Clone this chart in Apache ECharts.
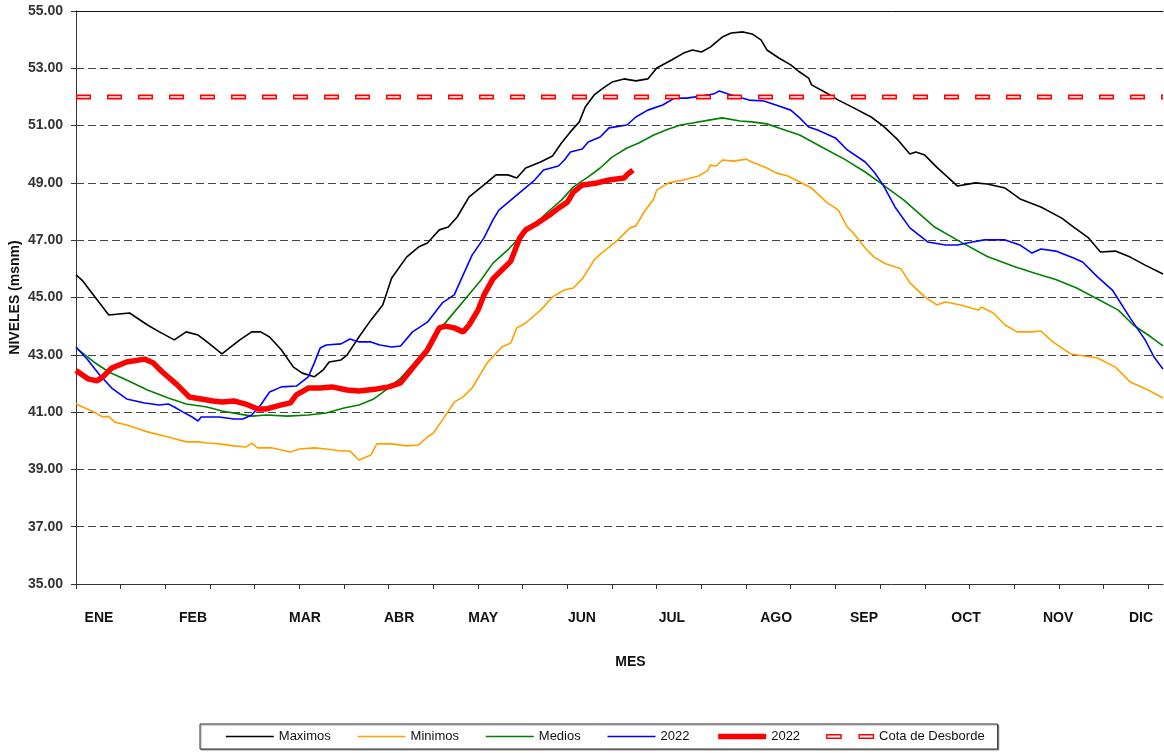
<!DOCTYPE html>
<html><head><meta charset="utf-8">
<script src="https://cdn.jsdelivr.net/npm/echarts@6/dist/echarts.min.js"></script>
<style>html,body{margin:0;padding:0;background:#fff}#c{width:1164px;height:753px}</style>
</head><body><div id="c"></div>
<script>
const FONT = 'Liberation Sans, Arial, sans-serif';
const monthNames = ['ENE','FEB','MAR','ABR','MAY','JUN','JUL','AGO','SEP','OCT','NOV','DIC'];
const monthPos = [7.7, 39.3, 76.9, 108.5, 136.7, 169.9, 200.1, 235.1, 264.6, 298.9, 329.8, 357.6];
const tickDays = [0,15,30,45,60,75,90,105,120,135,150,165,180,195,210,225,240,255,270,285,300,315,330,345,360];

const maxDays = [0,2,11,18,24,28,33,37,41,44,49,55,59,62,65,69,73,76,80,83,85,89,91,95,99,103,106,111,115,118,122,125,128,132,137,141,145,148,151,156,160,163,166,169,171,174,177,180,184,188,192,195,200,204,207,210,213,217,220,224,227,230,232,236,240,243,246,247,252,256,260,267,271,276,280,282,285,289,296,302,306,312,317,324,331,335,340,344,349,354,359,365];
const maxVals = [45.79,45.61,44.39,44.46,44.04,43.80,43.52,43.80,43.69,43.45,43.03,43.52,43.80,43.80,43.62,43.17,42.57,42.36,42.23,42.47,42.75,42.82,42.99,43.62,44.21,44.74,45.68,46.41,46.76,46.90,47.36,47.46,47.81,48.51,48.93,49.28,49.28,49.17,49.52,49.73,49.94,50.39,50.78,51.13,51.65,52.07,52.31,52.52,52.63,52.56,52.63,53.01,53.29,53.53,53.64,53.57,53.74,54.09,54.23,54.27,54.20,53.99,53.64,53.36,53.12,52.87,52.66,52.42,52.14,51.89,51.68,51.30,50.99,50.50,50.01,50.08,49.97,49.55,48.89,49.00,48.96,48.82,48.44,48.16,47.77,47.46,47.08,46.59,46.62,46.41,46.13,45.82];

const minDays = [0,6,9,11,13,17,24,31,37,41,44,48,53,57,59,61,66,72,75,80,84,89,92,95,99,101,106,111,115,118,120,123,127,130,133,138,143,146,148,151,156,160,164,167,170,174,177,182,186,188,191,194,195,199,204,209,212,213,215,217,221,225,227,232,235,239,243,247,252,256,259,261,265,268,272,277,280,285,289,292,297,303,304,308,312,316,321,324,328,334,343,349,354,360,365];
const minVals = [41.28,41.00,40.83,40.85,40.65,40.55,40.31,40.13,39.96,39.96,39.92,39.89,39.82,39.78,39.92,39.75,39.75,39.61,39.71,39.75,39.71,39.64,39.64,39.33,39.50,39.89,39.89,39.82,39.85,40.13,40.27,40.72,41.35,41.53,41.84,42.71,43.27,43.41,43.94,44.11,44.56,45.02,45.26,45.33,45.65,46.31,46.59,47.01,47.43,47.50,48.02,48.44,48.75,49.00,49.10,49.24,49.42,49.62,49.59,49.80,49.76,49.83,49.73,49.52,49.35,49.24,49.03,48.82,48.33,48.05,47.46,47.25,46.73,46.41,46.17,46.00,45.51,45.02,44.74,44.84,44.74,44.56,44.67,44.46,44.04,43.80,43.80,43.83,43.45,43.03,42.89,42.57,42.05,41.77,41.49];

const medDays = [0,6,11,17,24,31,37,44,49,55,59,64,71,78,84,90,95,100,104,109,113,118,122,127,131,136,140,145,149,154,158,163,167,172,176,180,185,189,194,199,203,207,213,217,223,227,232,236,240,243,251,258,265,271,278,288,297,306,315,322,329,336,343,350,355,361,365];
const medVals = [43.24,42.75,42.40,42.12,41.77,41.49,41.28,41.18,41.04,40.93,40.86,40.90,40.86,40.90,40.97,41.14,41.25,41.46,41.77,42.19,42.64,43.24,43.87,44.49,44.98,45.61,46.20,46.66,47.11,47.53,47.95,48.40,48.86,49.21,49.52,49.90,50.22,50.39,50.67,50.88,51.02,51.09,51.20,51.27,51.16,51.13,51.06,50.92,50.78,50.67,50.22,49.83,49.38,48.93,48.40,47.48,46.94,46.43,46.08,45.85,45.63,45.33,44.95,44.56,44.04,43.62,43.31];

const y2022Days = [0,4,8,12,17,23,28,31,33,36,39,41,42,48,53,56,59,62,65,69,74,78,80,82,84,89,92,95,99,102,106,109,113,118,123,127,130,133,137,140,142,146,150,154,157,162,164,166,170,172,176,179,185,188,192,197,201,205,210,214,216,219,226,231,235,240,243,246,249,255,259,265,268,271,275,280,286,292,296,301,305,312,314,317,321,324,329,335,338,343,348,354,359,362,365];
const y2022Vals = [43.27,42.82,42.29,41.84,41.46,41.32,41.25,41.28,41.18,41.00,40.83,40.69,40.83,40.83,40.76,40.76,40.90,41.25,41.70,41.88,41.91,42.23,42.71,43.24,43.34,43.38,43.55,43.45,43.45,43.34,43.27,43.31,43.80,44.14,44.81,45.09,45.79,46.48,47.08,47.71,48.05,48.40,48.75,49.10,49.45,49.59,49.80,50.08,50.18,50.43,50.60,50.92,51.02,51.30,51.54,51.72,51.96,51.96,52.03,52.10,52.21,52.10,51.89,51.86,51.72,51.54,51.27,50.95,50.85,50.57,50.15,49.73,49.38,48.93,48.16,47.43,46.94,46.83,46.83,46.94,47.01,47.01,46.94,46.83,46.55,46.69,46.62,46.38,46.24,45.72,45.26,44.28,43.52,42.92,42.50];

const cur2022Days = [0,4,7,9,12,17,23,26,29,34,38,42,46,49,53,57,61,64,69,72,74,78,82,86,91,95,101,105,109,113,118,122,124,127,130,132,135,137,140,143,146,149,151,155,159,162,165,167,170,175,179,184,185,187];
const cur2022Vals = [42.45,42.16,42.09,42.23,42.54,42.75,42.85,42.71,42.40,41.95,41.53,41.46,41.39,41.35,41.39,41.28,41.11,41.11,41.25,41.32,41.60,41.84,41.84,41.88,41.77,41.74,41.81,41.88,42.02,42.54,43.17,43.94,44.00,43.94,43.80,44.04,44.56,45.09,45.65,45.96,46.27,47.08,47.36,47.60,47.88,48.12,48.33,48.68,48.93,49.00,49.10,49.17,49.28,49.45];

const cotaDays = [0, 365];
const cotaVals = [52.00, 52.00];

function zip(d, v) { return d.map((x, i) => [x, v[i]]); }
function lineSeries(name, data, color, width, z) {
  return { type: 'line', name, data, symbol: 'none', showSymbol: false, silent: true,
    lineStyle: { color, width }, itemStyle: { color }, z, animation: false, clip: true };
}

const cotaIcon = 'path://M0,0H15V5H0Z M1.4,1.6V3.4H13.6V1.6Z M31,0H46V5H31Z M32.4,1.6V3.4H44.6V1.6Z';

const chart = echarts.init(document.getElementById('c'), null, { renderer: 'canvas' });
chart.setOption({
  animation: false,
  backgroundColor: '#fff',
  grid: { left: 76, right: 1, top: 11, bottom: 169, containLabel: false, outerBoundsMode: 'none' },
  xAxis: [{
    type: 'value', min: 0, max: 365, interval: 15,
    name: 'MES', nameLocation: 'middle', nameGap: 71, nameMoveOverlap: false,
    nameTextStyle: { fontFamily: FONT, fontWeight: 'bold', fontSize: 14, color: '#111', padding: [0, 0, 0, 22] },
    axisLine: { show: true, onZero: false, lineStyle: { color: '#333', width: 1 } },
    axisTick: { show: true, length: 5, customValues: tickDays, lineStyle: { color: '#333' } },
    axisLabel: {
      customValues: monthPos, margin: 27,
      fontFamily: FONT, fontWeight: 'bold', fontSize: 14, color: '#111',
      formatter: function (v) {
        let bi = 0, bd = 1e9;
        monthPos.forEach((p, i) => { const d = Math.abs(p - v); if (d < bd) { bd = d; bi = i; } });
        return monthNames[bi];
      }
    },
    splitLine: { show: false }
  }, {
    type: 'value', min: 0, max: 365, position: 'top',
    axisLine: { show: true, onZero: false, lineStyle: { color: '#111', width: 1 } },
    axisTick: { show: false }, axisLabel: { show: false }, splitLine: { show: false }
  }],
  yAxis: {
    type: 'value', min: 35, max: 55, interval: 2,
    name: 'NIVELES (msnm)', nameLocation: 'middle', nameGap: 54, nameRotate: 90, nameMoveOverlap: false,
    nameTextStyle: { fontFamily: FONT, fontWeight: 'bold', fontSize: 14, color: '#111' },
    axisLine: { show: true, lineStyle: { color: '#333', width: 1 } },
    axisTick: { show: true, length: 5, lineStyle: { color: '#333' } },
    axisLabel: { margin: 13, fontFamily: FONT, fontWeight: 'bold', fontSize: 14, color: '#333',
      formatter: v => v.toFixed(2) },
    splitLine: { show: true, lineStyle: { color: '#444', width: 1, type: [8, 4] } }
  },
  legend: {
    left: 200, top: 724, orient: 'horizontal',
    itemWidth: 48, itemHeight: 12, itemGap: 26,
    padding: [6, 13, 6, 25],
    borderColor: '#333', borderWidth: 1, backgroundColor: '#fff',
    shadowColor: 'rgba(0,0,0,0.35)', shadowOffsetX: 1, shadowOffsetY: 1, shadowBlur: 1,
    textStyle: { fontFamily: FONT, fontSize: 13, color: '#111' },
    lineStyle: { width: 'inherit' },
    itemStyle: { opacity: 0 },
    selectedMode: false,
    formatter: n => n.trim(),
    data: ['Maximos', 'Minimos', 'Medios', '2022', '2022 ',
      { name: 'Cota de Desborde', icon: cotaIcon, itemStyle: { color: '#ff0000', opacity: 1, borderWidth: 0 } }]
  },
  series: [
    lineSeries('Maximos', zip(maxDays, maxVals), '#000000', 1.6, 2),
    lineSeries('Minimos', zip(minDays, minVals), '#FFA000', 1.6, 2),
    lineSeries('Medios', zip(medDays, medVals), '#008000', 1.6, 2),
    lineSeries('2022', zip(y2022Days, y2022Vals), '#0000FF', 1.6, 3),
    lineSeries('2022 ', zip(cur2022Days, cur2022Vals), '#FF0000', 5.5, 4),
    { type: 'line', name: 'Cota de Desborde', data: zip(cotaDays, cotaVals), symbol: 'none', silent: true, z: 5,
      lineStyle: { color: '#FF0000', width: 5, type: [15, 16] }, itemStyle: { color: '#FF0000' } },
    { type: 'line', name: '_cotaInner', data: zip(cotaDays, cotaVals), symbol: 'none', silent: true, z: 6,
      lineStyle: { color: '#FFFFFF', width: 1.5, type: [12, 19], dashOffset: -1.5 }, itemStyle: { color: '#FFFFFF' } }
  ]
});
</script>
</body></html>
